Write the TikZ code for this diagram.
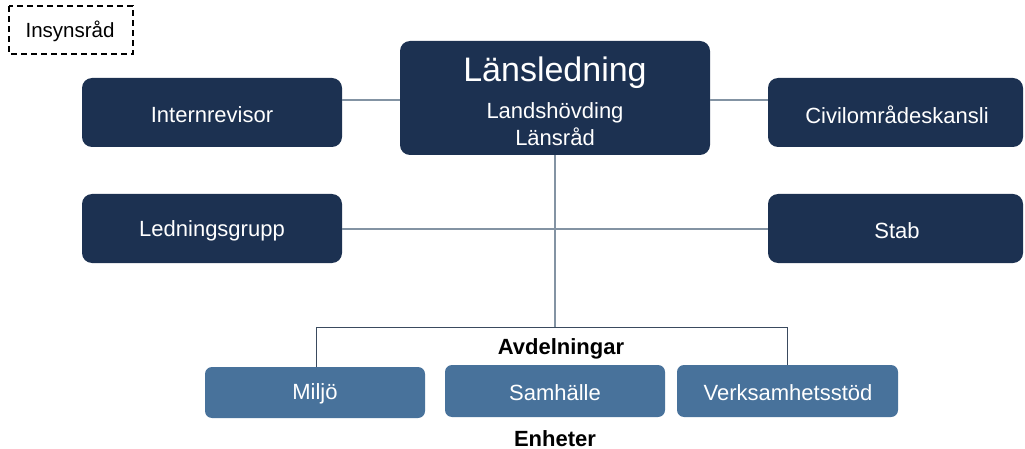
\documentclass[tikz,border=0pt]{standalone}
\usepackage{fontspec}
\setmainfont{Liberation Sans}
\definecolor{navy}{HTML}{1C3151}
\definecolor{steel}{HTML}{48729B}
\definecolor{conn}{HTML}{8393A3}
\definecolor{brack}{HTML}{3A4A5E}
\begin{document}
\begin{tikzpicture}[x=1pt,y=-1pt,
  dark/.style={fill=navy,rounded corners=10pt},
  light/.style={fill=steel,rounded corners=7pt},
  wtxt/.style={text=white,font=\fontsize{22}{26}\selectfont,yshift=-2pt},
  conline/.style={draw=conn,line width=1.1pt},
  brline/.style={draw=brack,line width=1pt},
  lbl/.style={font=\bfseries\fontsize{22}{26}\selectfont,text=black,yshift=-1.5pt}]
\useasboundingbox (0,0) rectangle (1025,449);
% boxes
\draw[dash pattern=on 6pt off 4pt,line width=1.3pt] (9,6) rectangle (133,54);
\node[font=\fontsize{20.5}{24}\selectfont] (ins) at (70,31) {Insynsråd};
\fill[dark] (82,78) rectangle (342,147);
\node[wtxt] (intern) at (212,113) {Internrevisor};
\fill[dark] (400,41) rectangle (710,155);
\node[text=white,font=\fontsize{34}{40}\selectfont] (lans) at (555,73) {Länsledning};
\node[wtxt,align=center,font=\fontsize{22}{27}\selectfont] (lanssub) at (555,122) {Landshövding\\Länsråd};
\fill[dark] (768,78) rectangle (1023,147);
\node[wtxt] (civil) at (897,113) {Civilområdeskansli};
\fill[dark] (82,194) rectangle (342,263);
\node[wtxt] (led) at (212,229) {Ledningsgrupp};
\fill[dark] (768,194) rectangle (1023,263);
\node[wtxt] (stab) at (897,229) {Stab};
\fill[light] (205,367) rectangle (425,418);
\node[wtxt] (miljo) at (315,392) {Miljö};
\fill[light] (445,365) rectangle (665,417);
\node[wtxt] (samh) at (555,391) {Samhälle};
\fill[light] (677,365) rectangle (898,417);
\node[wtxt] (verk) at (788,391) {Verksamhetsstöd};
\node[lbl] (avd) at (561,347) {Avdelningar};
\node[lbl] (enh) at (555,437) {Enheter};
% connector coordinates
\coordinate (iR) at (342,100);
\coordinate (lL) at (400,100);
\coordinate (lR) at (710,100);
\coordinate (cL) at (768,100);
\coordinate (gR) at (342,229);
\coordinate (sL) at (768,229);
\coordinate (lB) at (555,155);
\coordinate (jn) at (555,327);
\coordinate (bl) at (316,327);
\coordinate (br) at (787,327);
\coordinate (mT) at (316,367);
\coordinate (vT) at (787,365);
\draw[conline] (iR) -- (lL);
\draw[conline] (lR) -- (cL);
\draw[conline] (gR) -- (sL);
\draw[conline] (lB) -- (jn);
\draw[brline] (mT) -- (bl) -- (br) -- (vT);
\end{tikzpicture}
\end{document}
